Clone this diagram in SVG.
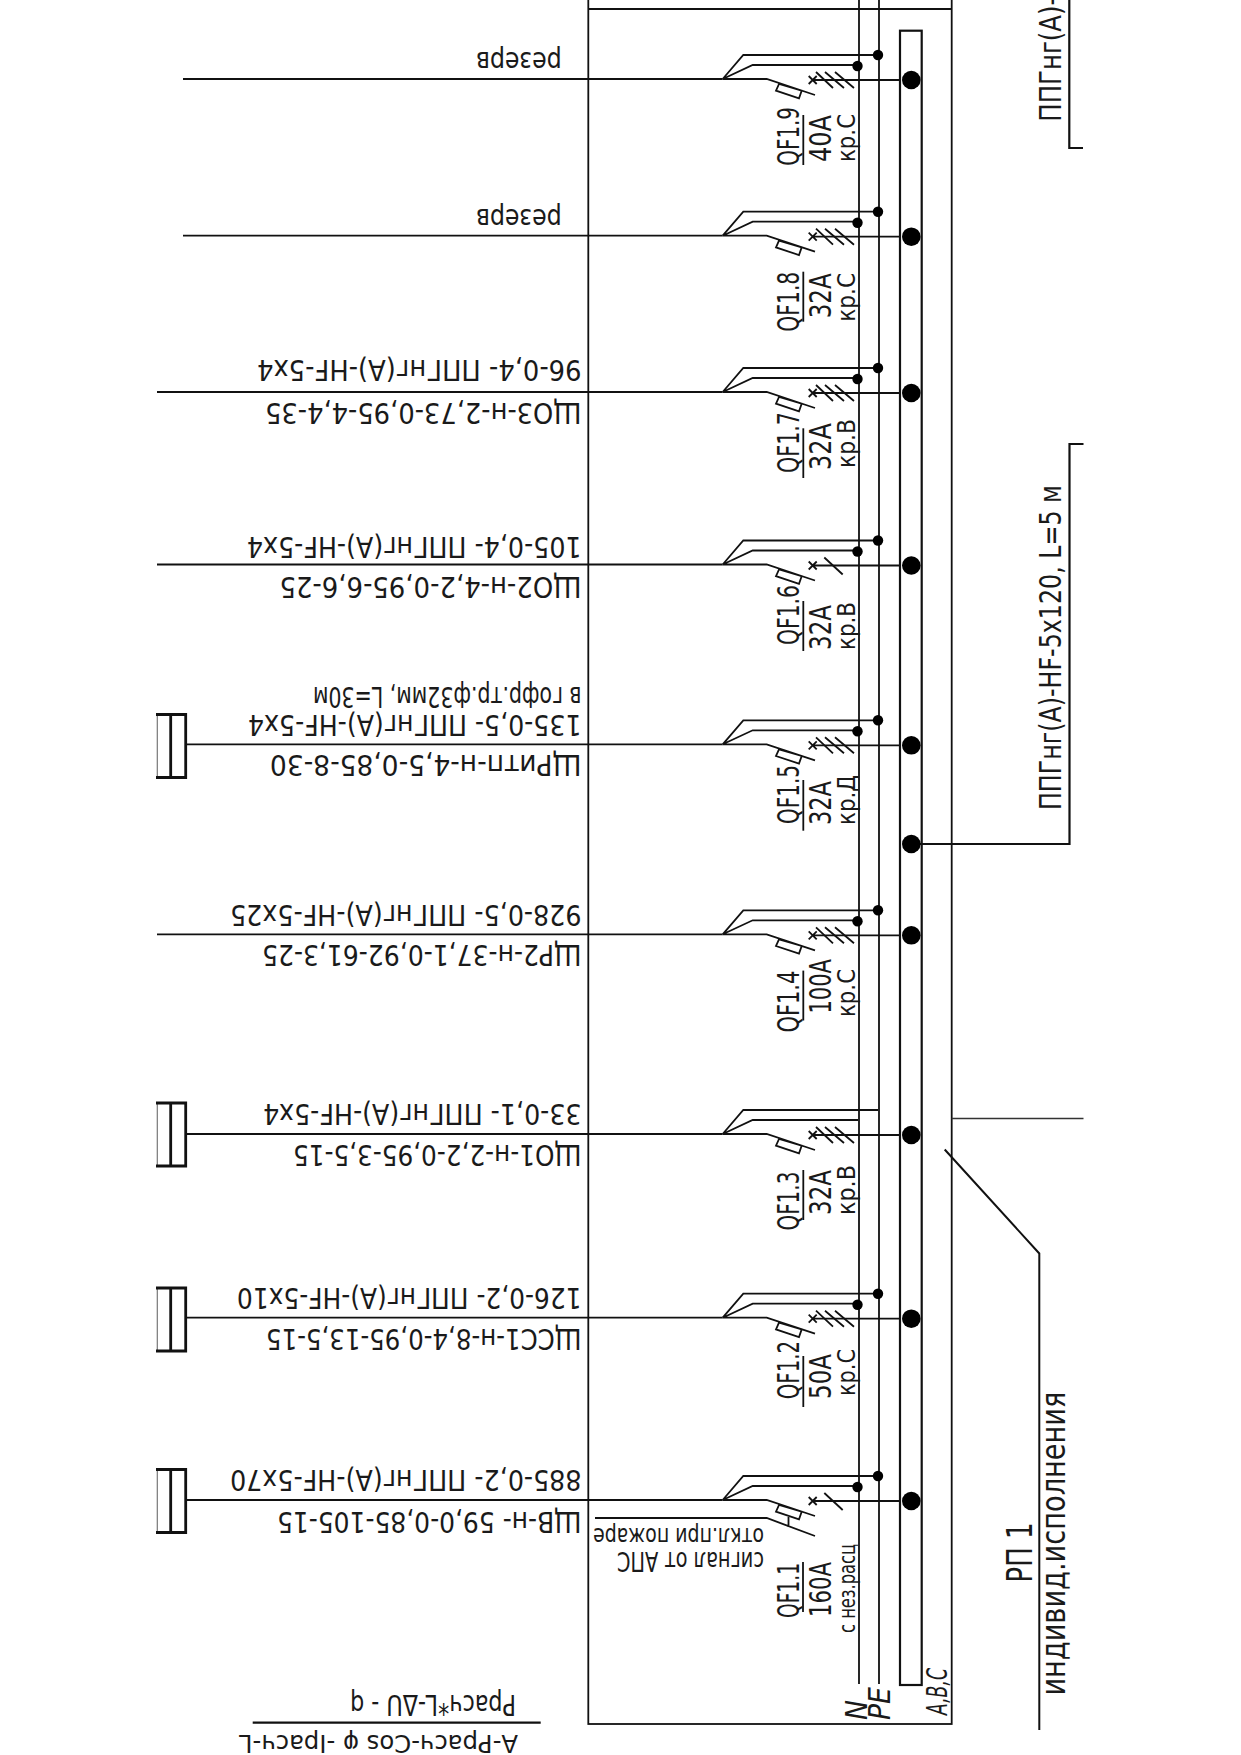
<svg xmlns="http://www.w3.org/2000/svg" xmlns:xlink="http://www.w3.org/1999/xlink" width="1241" height="1755" viewBox="0 0 1241 1755">
<style>
.l{fill:none;stroke:#111;stroke-width:1.8}
.t{stroke-width:2.8}
.g{stroke:#777;stroke-width:1.2}
.d{fill:#000}
text{font-family:"DejaVu Sans","Liberation Sans",sans-serif;fill:#1a1a1a}
.a{font-size:28px}
.q{font-size:31px}
.r{font-size:28px}
.k{font-size:25px}
.i{font-style:italic}
</style>
<defs>
<g id="sym">
<path class="l" d="M722.7,0H766.7L815,16M722.7,0L743.3,-24H878M722.7,0L752.7,-14H858M779,5L801.7,11.7L799,19.3L776,11.7ZM812.7,1H900M808.7,-3L816.7,5M816.7,-3L808.7,5"/>
<circle class="d" cx="911.3" cy="1" r="9.3"/>
</g>
<g id="dots"><circle class="d" cx="878" cy="-24" r="5.2"/><circle class="d" cx="857.5" cy="-13" r="5.2"/></g>
<path id="t3" class="l" d="M816,-7L833,9M825,-7L844,9M835,-7L854,9"/>
<path id="t1" class="l" d="M824.3,-7L842.7,10"/>
<g id="box">
<path class="l g" d="M157.3,-31V32"/>
<path class="l t" d="M156,-31H185.7V32H156M170.7,-31V32"/>
</g>
</defs>

<g id="frame">
<rect class="l" x="588.3" y="-5" width="363.4" height="1729"/>
<path class="l" d="M588.3,9H951.7"/>
<path class="l" style="stroke:#333;stroke-width:1.4" d="M951.7,1118.5H1083.5"/>
</g>

<g id="busbars">
<path class="l" d="M859,0V1684M879,0V1684"/>
<rect class="l" style="stroke-width:2.2" x="900" y="30.7" width="21.7" height="1654.3"/>
<text class="q i" transform="translate(867,1720) rotate(-90)" textLength="20" lengthAdjust="spacingAndGlyphs">N</text>
<text class="q i" transform="translate(890,1720) rotate(-90)" textLength="33" lengthAdjust="spacingAndGlyphs">PE</text>
<text class="r i" transform="translate(947,1715) rotate(-90)" textLength="47" lengthAdjust="spacingAndGlyphs">A,B,C</text>
</g>

<g id="connectors">
<path class="l" style="stroke-width:2.2" d="M911.3,844H1069.5V444H1083.5"/>
<path class="l" style="stroke-width:2.2" d="M1069.3,0V148H1083"/>
<path class="l" style="stroke-width:2" d="M944.7,1149.5L1039.3,1253.5V1730"/>
<path class="l" d="M183,79H722.7M183,235.7H722.7M157,392H722.7M157,564.5H722.7M185.7,744.3H722.7M157,934.3H722.7M185.7,1134H722.7M185.7,1317.7H722.7M185.7,1500H722.7"/>
<path class="l" d="M595,1518H766.7L815,1536M788.5,1517V1527"/>
</g>

<g id="QF1-9">
<use xlink:href="#sym" transform="translate(0,79)"/><use xlink:href="#dots" transform="translate(0,79)"/><use xlink:href="#t3" transform="translate(0,79)"/>
<path class="l" d="M803.3,115V165"/>
<text class="q" transform="translate(799,165.7) rotate(-90)" textLength="58.7" lengthAdjust="spacingAndGlyphs">QF1.9</text>
<text class="q" transform="translate(830.5,162) rotate(-90)" textLength="47" lengthAdjust="spacingAndGlyphs">40А</text>
<text class="k" transform="translate(855,162) rotate(-90)" textLength="48" lengthAdjust="spacingAndGlyphs">кр.С</text>
<text class="a" transform="translate(561.7,52) rotate(180)" textLength="85.7" lengthAdjust="spacingAndGlyphs">резерв</text>
</g>

<g id="QF1-8">
<use xlink:href="#sym" transform="translate(0,235.7)"/><use xlink:href="#dots" transform="translate(0,235.7)"/><use xlink:href="#t3" transform="translate(0,235.7)"/>
<path class="l" d="M803.3,271.7V321.7"/>
<text class="q" transform="translate(799,331.7) rotate(-90)" textLength="60" lengthAdjust="spacingAndGlyphs">QF1.8</text>
<text class="q" transform="translate(830.5,318.3) rotate(-90)" textLength="45" lengthAdjust="spacingAndGlyphs">32А</text>
<text class="k" transform="translate(855,321.7) rotate(-90)" textLength="48.7" lengthAdjust="spacingAndGlyphs">кр.С</text>
<text class="a" transform="translate(561.7,208.7) rotate(180)" textLength="85.7" lengthAdjust="spacingAndGlyphs">резерв</text>
</g>

<g id="QF1-7">
<use xlink:href="#sym" transform="translate(0,392)"/><use xlink:href="#dots" transform="translate(0,392)"/><use xlink:href="#t3" transform="translate(0,392)"/>
<path class="l" d="M803.3,428.3V478"/>
<text class="q" transform="translate(799,473) rotate(-90)" textLength="61" lengthAdjust="spacingAndGlyphs">QF1.7</text>
<text class="q" transform="translate(830.5,470) rotate(-90)" textLength="47" lengthAdjust="spacingAndGlyphs">32А</text>
<text class="k" transform="translate(855,468) rotate(-90)" textLength="49" lengthAdjust="spacingAndGlyphs">кр.В</text>
<text class="a" transform="translate(581.5,360) rotate(180)" textLength="324.5" lengthAdjust="spacingAndGlyphs">96-0,4- ППГнг(А)-HF-5х4</text>
<text class="a" transform="translate(581.5,403) rotate(180)" textLength="316.5" lengthAdjust="spacingAndGlyphs">ЩО3-н-2,73-0,95-4,4-35</text>
</g>

<g id="QF1-6">
<use xlink:href="#sym" transform="translate(0,564.5)"/><use xlink:href="#dots" transform="translate(0,564.5)"/><use xlink:href="#t1" transform="translate(0,564.5)"/>
<path class="l" d="M803.3,601V651"/>
<text class="q" transform="translate(799,645) rotate(-90)" textLength="60" lengthAdjust="spacingAndGlyphs">QF1.6</text>
<text class="q" transform="translate(830.5,650) rotate(-90)" textLength="45" lengthAdjust="spacingAndGlyphs">32А</text>
<text class="k" transform="translate(855,650) rotate(-90)" textLength="48" lengthAdjust="spacingAndGlyphs">кр.В</text>
<text class="a" transform="translate(581.5,536.5) rotate(180)" textLength="334.5" lengthAdjust="spacingAndGlyphs">105-0,4- ППГнг(А)-HF-5х4</text>
<text class="a" transform="translate(581.5,576.5) rotate(180)" textLength="302" lengthAdjust="spacingAndGlyphs">ЩО2-н-4,2-0,95-6,6-25</text>
</g>

<g id="QF1-5">
<use xlink:href="#sym" transform="translate(0,744.3)"/><use xlink:href="#dots" transform="translate(0,744.3)"/><use xlink:href="#t3" transform="translate(0,744.3)"/>
<use xlink:href="#box" transform="translate(0,745.5)"/>
<path class="l" d="M803.3,780V830.7"/>
<text class="q" transform="translate(799,824) rotate(-90)" textLength="59" lengthAdjust="spacingAndGlyphs">QF1.5</text>
<text class="q" transform="translate(830.5,825) rotate(-90)" textLength="44" lengthAdjust="spacingAndGlyphs">32А</text>
<text class="k" transform="translate(855,825) rotate(-90)" textLength="50" lengthAdjust="spacingAndGlyphs">кр.Д</text>
<text class="a" transform="translate(581.5,687) rotate(180)" textLength="268.5" lengthAdjust="spacingAndGlyphs">в гофр.тр.ф32мм, L=30м</text>
<text class="a" transform="translate(581.5,715) rotate(180)" textLength="333.5" lengthAdjust="spacingAndGlyphs">135-0,5- ППГнг(А)-HF-5х4</text>
<text class="a" transform="translate(581.5,755) rotate(180)" textLength="311.5" lengthAdjust="spacingAndGlyphs">ЩРитп-н-4,5-0,85-8-30</text>
</g>

<g id="QF1-4">
<use xlink:href="#sym" transform="translate(0,934.3)"/><use xlink:href="#dots" transform="translate(0,934.3)"/><use xlink:href="#t3" transform="translate(0,934.3)"/>
<path class="l" d="M803.3,970.6V1020.5"/>
<text class="q" transform="translate(799,1032.6) rotate(-90)" textLength="62" lengthAdjust="spacingAndGlyphs">QF1.4</text>
<text class="q" transform="translate(830.5,1013.6) rotate(-90)" textLength="54.6" lengthAdjust="spacingAndGlyphs">100А</text>
<text class="k" transform="translate(855,1017) rotate(-90)" textLength="48" lengthAdjust="spacingAndGlyphs">кр.С</text>
<text class="a" transform="translate(581.5,905) rotate(180)" textLength="351.5" lengthAdjust="spacingAndGlyphs">928-0,5- ППГнг(А)-HF-5х25</text>
<text class="a" transform="translate(581.5,945) rotate(180)" textLength="319.5" lengthAdjust="spacingAndGlyphs">ЩР2-н-37,1-0,92-61,3-25</text>
</g>

<g id="QF1-3">
<use xlink:href="#sym" transform="translate(0,1134)"/><use xlink:href="#t3" transform="translate(0,1134)"/>
<use xlink:href="#box" transform="translate(0,1134)"/>
<path class="l" d="M803.3,1170V1220"/>
<text class="q" transform="translate(799,1230.6) rotate(-90)" textLength="59" lengthAdjust="spacingAndGlyphs">QF1.3</text>
<text class="q" transform="translate(830.5,1215) rotate(-90)" textLength="45" lengthAdjust="spacingAndGlyphs">32А</text>
<text class="k" transform="translate(855,1215) rotate(-90)" textLength="50" lengthAdjust="spacingAndGlyphs">кр.В</text>
<text class="a" transform="translate(581.5,1104) rotate(180)" textLength="318.5" lengthAdjust="spacingAndGlyphs">33-0,1- ППГнг(А)-HF-5х4</text>
<text class="a" transform="translate(581.5,1145) rotate(180)" textLength="288.5" lengthAdjust="spacingAndGlyphs">ЩО1-н-2,2-0,95-3,5-15</text>
</g>

<g id="QF1-2">
<use xlink:href="#sym" transform="translate(0,1317.7)"/><use xlink:href="#dots" transform="translate(0,1317.7)"/><use xlink:href="#t3" transform="translate(0,1317.7)"/>
<use xlink:href="#box" transform="translate(0,1319)"/>
<path class="l" d="M803.3,1356V1407"/>
<text class="q" transform="translate(799,1399.3) rotate(-90)" textLength="58.5" lengthAdjust="spacingAndGlyphs">QF1.2</text>
<text class="q" transform="translate(830.5,1399) rotate(-90)" textLength="45" lengthAdjust="spacingAndGlyphs">50А</text>
<text class="k" transform="translate(855,1396) rotate(-90)" textLength="47" lengthAdjust="spacingAndGlyphs">кр.С</text>
<text class="a" transform="translate(581.5,1288) rotate(180)" textLength="344.5" lengthAdjust="spacingAndGlyphs">126-0,2- ППГнг(А)-HF-5х10</text>
<text class="a" transform="translate(581.5,1328.5) rotate(180)" textLength="315.5" lengthAdjust="spacingAndGlyphs">ЩСС1-н-8,4-0,95-13,5-15</text>
</g>

<g id="QF1-1">
<use xlink:href="#sym" transform="translate(0,1500)"/><use xlink:href="#dots" transform="translate(0,1500)"/><use xlink:href="#t1" transform="translate(0,1500)"/>
<use xlink:href="#box" transform="translate(0,1500.5)"/>
<path class="l" d="M803,1562V1612"/>
<text class="q" transform="translate(798.5,1618) rotate(-90)" textLength="55" lengthAdjust="spacingAndGlyphs">QF1.1</text>
<text class="q" transform="translate(830.5,1617) rotate(-90)" textLength="55" lengthAdjust="spacingAndGlyphs">160А</text>
<text class="k" style="font-size:23px" transform="translate(855,1633) rotate(-90)" textLength="89" lengthAdjust="spacingAndGlyphs">с нез.расц</text>
<text class="a" transform="translate(581.5,1470) rotate(180)" textLength="351.5" lengthAdjust="spacingAndGlyphs">885-0,2- ППГнг(А)-HF-5х70</text>
<text class="a" transform="translate(581.5,1512) rotate(180)" textLength="304.5" lengthAdjust="spacingAndGlyphs">ЩВ-н- 59,0-0,85-105-15</text>
<text class="k" transform="translate(764,1528) rotate(180)" textLength="171" lengthAdjust="spacingAndGlyphs">откл.при пожаре</text>
<text class="k" style="font-size:27px" transform="translate(764,1552) rotate(180)" textLength="147" lengthAdjust="spacingAndGlyphs">сигнал от АПС</text>
</g>

<g id="feed">
<circle class="d" cx="911.3" cy="844" r="9.3"/>
<text class="q" transform="translate(1061,810) rotate(-90)" textLength="325" lengthAdjust="spacingAndGlyphs">ППГнг(А)-HF-5х120, L=5 м</text>
<text class="q" transform="translate(1060.7,121.7) rotate(-90)" textLength="125" lengthAdjust="spacingAndGlyphs">ППГнг(А)-</text>
</g>

<g id="panel-label">
<text style="font-size:36px" transform="translate(1032,1582.5) rotate(-90)" textLength="60" lengthAdjust="spacingAndGlyphs">РП 1</text>
<text style="font-size:33px" transform="translate(1065,1695.6) rotate(-90)" textLength="304" lengthAdjust="spacingAndGlyphs">индивид.исполнения</text>
</g>

<g id="formula">
<path class="l" style="stroke-width:2.2" d="M252.7,1722.7H540.7"/>
<text class="a" transform="translate(516,1695) rotate(180)" textLength="166" lengthAdjust="spacingAndGlyphs">Ррасч*L-ΔU - q</text>
<text class="a" style="font-size:25px" transform="translate(518,1735) rotate(180)" textLength="279" lengthAdjust="spacingAndGlyphs">А-Ррасч-Cos φ -Iрасч-L</text>
</g>
</svg>
